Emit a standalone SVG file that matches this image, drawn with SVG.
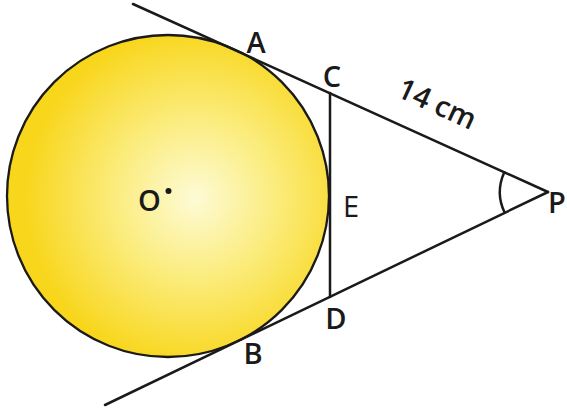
<svg xmlns="http://www.w3.org/2000/svg" width="567" height="411" viewBox="0 0 567 411">
<defs>
<radialGradient id="sun" cx="195" cy="198" r="170" gradientUnits="userSpaceOnUse">
<stop offset="0" stop-color="#fdfbd6"/>
<stop offset="0.5" stop-color="#fbeb78"/>
<stop offset="1" stop-color="#f8d61c"/>
</radialGradient>
<style>
.ln{stroke:#1a1a1a;stroke-width:2.5;fill:none;stroke-linecap:round}
.lb{font-family:"Open Sans","DejaVu Sans",sans-serif;font-size:29px;font-weight:600;fill:#1a1a1a}
.lr{font-family:"Open Sans","DejaVu Sans",sans-serif;font-size:29px;font-weight:400;fill:#1a1a1a}
</style>
</defs>
<rect width="567" height="411" fill="#ffffff"/>
<g id="circle-O">
<circle cx="168" cy="196" r="161" fill="url(#sun)" stroke="#1a1a1a" stroke-width="2.3"/>
<circle cx="168.5" cy="191" r="3" fill="#1a1a1a"/>
<text class="lb" x="138" y="211">O</text>
</g>
<g id="connectors">
<line class="ln" x1="133" y1="4" x2="548" y2="192"/>
<line class="ln" x1="105" y1="405" x2="548" y2="192"/>
<line class="ln" x1="330" y1="93" x2="330" y2="297"/>
<path class="ln" d="M504.3 172.2 A48 48 0 0 0 504.7 212.8"/>
</g>
<g id="A"><text class="lb" x="256" y="53" text-anchor="middle">A</text></g>
<g id="B"><text class="lb" x="253" y="364" text-anchor="middle">B</text></g>
<g id="C"><text class="lb" x="332" y="87" text-anchor="middle">C</text></g>
<g id="D"><text class="lb" x="336" y="329" text-anchor="middle">D</text></g>
<g id="E"><text class="lr" x="343" y="217">E</text></g>
<g id="P"><text class="lb" x="548" y="213" font-size="27">P</text></g>
<g id="label-14cm"><text class="lb" x="0" y="0" text-anchor="middle" transform="translate(433,113) rotate(24.6)">14 cm</text></g>
</svg>
